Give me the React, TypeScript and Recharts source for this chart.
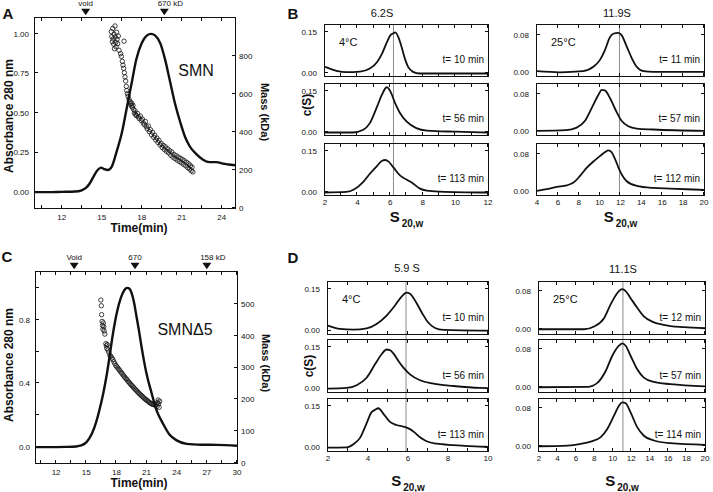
import React from 'react';
import { ComposedChart, LineChart, Line, Scatter, XAxis, YAxis, ReferenceDot } from 'recharts';

const FONT = '"Liberation Sans", Arial, Helvetica, sans-serif';
const INK = '#111';

type Pt = [number, number];

// ---------- A: SMN elution (time, A280) ----------
const smnTime = [10, 11, 12, 13, 13.5, 13.8, 14.1, 14.4, 14.7, 14.95, 15.2, 15.45, 15.75, 16.1, 16.5, 16.9, 17.25, 17.6, 18.0, 18.4, 18.7, 19.0, 19.4, 19.75, 20.1, 20.5, 20.9, 21.25, 21.6, 22.1, 22.6, 23.1, 23.6, 24.1, 24.5, 25];
const smnAbs = [0, 0, 0.002, 0.004, 0.012, 0.025, 0.055, 0.1, 0.14, 0.155, 0.145, 0.14, 0.16, 0.25, 0.37, 0.54, 0.69, 0.84, 0.94, 0.99, 1.0, 0.99, 0.94, 0.84, 0.71, 0.56, 0.44, 0.35, 0.29, 0.24, 0.205, 0.19, 0.19, 0.18, 0.175, 0.17];

// MALS mass (time, kDa)
const smnMass: Pt[] = [
  [15.72, 928], [15.76, 902], [15.8, 875], [15.83, 945], [15.86, 890], [15.9, 862], [15.93, 915], [15.96, 838],
  [16.0, 958], [16.02, 900], [16.05, 872], [16.08, 848], [16.12, 925], [16.15, 888], [16.2, 865], [16.25, 905],
  [16.3, 830], [16.42, 812], [16.48, 798], [16.68, 878], [16.55, 772], [16.6, 752], [16.65, 735], [16.7, 712],
  [16.75, 690], [16.8, 668], [16.85, 640], [16.88, 618], [16.93, 602], [16.98, 588], [17.05, 572], [17.12, 560],
  [17.18, 548], [17.22, 538], [17.26, 552], [17.3, 530], [17.35, 540], [17.4, 518], [17.45, 500], [17.5, 512],
  [17.55, 492], [17.6, 486], [17.68, 498], [17.75, 480], [17.82, 470], [17.9, 484], [17.98, 460], [18.05, 468],
  [18.12, 448], [18.2, 438], [18.28, 455], [18.35, 428], [18.42, 416], [18.5, 432], [18.58, 402], [18.66, 412],
  [18.74, 385], [18.82, 398], [18.9, 372], [18.98, 383], [19.06, 358], [19.14, 368], [19.22, 345], [19.3, 356],
  [19.38, 332], [19.46, 340], [19.54, 318], [19.62, 330], [19.7, 308], [19.78, 322], [19.86, 298], [19.94, 312],
  [20.02, 290], [20.1, 302], [20.18, 278], [20.26, 295], [20.34, 268], [20.42, 282], [20.5, 260], [20.58, 276],
  [20.66, 252], [20.74, 268], [20.82, 245], [20.9, 262], [20.98, 238], [21.06, 255], [21.14, 230], [21.22, 248],
  [21.3, 222], [21.38, 240], [21.46, 212], [21.54, 232], [21.6, 205], [21.66, 222], [21.72, 196], [21.78, 215],
  [21.84, 190],
];

// ---------- C: SMNΔ5 elution ----------
const d5Time = [10, 12, 13, 14, 14.5, 15, 15.3, 15.6, 16.0, 16.3, 16.7, 17.0, 17.3, 17.6, 17.9, 18.1, 18.4, 18.65, 18.9, 19.1, 19.3, 19.5, 19.75, 20.0, 20.25, 20.5, 20.75, 21.0, 21.5, 22.0, 22.7, 23.3, 24.0, 25.0, 26.5, 28, 30];
const d5Abs = [0, 0, 0.001, 0.004, 0.01, 0.03, 0.055, 0.09, 0.16, 0.23, 0.34, 0.44, 0.56, 0.69, 0.8, 0.86, 0.93, 0.97, 0.995, 1.0, 0.995, 0.97, 0.91, 0.82, 0.73, 0.63, 0.54, 0.46, 0.34, 0.23, 0.14, 0.077, 0.042, 0.02, 0.015, 0.014, 0.008];

const d5Mass: Pt[] = [
  [16.45, 512], [16.5, 494], [16.53, 466], [16.58, 445], [16.62, 432], [16.66, 420], [16.7, 440], [16.74, 428],
  [16.78, 415], [16.85, 405], [16.95, 375], [17.0, 368], [17.05, 360], [17.1, 372], [17.15, 355], [17.25, 348],
  [17.35, 338], [17.45, 335], [17.55, 330], [17.65, 325], [17.75, 318], [17.85, 312], [17.95, 306], [18.05, 302],
  [18.15, 298], [18.25, 294], [18.35, 290], [18.45, 285], [18.55, 282], [18.65, 277], [18.75, 273], [18.85, 269],
  [18.95, 265], [19.05, 262], [19.15, 257], [19.25, 254], [19.35, 250], [19.45, 246], [19.55, 243], [19.65, 239],
  [19.75, 236], [19.85, 232], [19.95, 229], [20.05, 226], [20.15, 222], [20.25, 219], [20.35, 216], [20.45, 213],
  [20.55, 210], [20.65, 207], [20.75, 204], [20.85, 201], [20.95, 199], [21.05, 196], [21.15, 194], [21.25, 191],
  [21.35, 189], [21.45, 187], [21.55, 185], [21.65, 184], [21.75, 183], [21.85, 182], [21.95, 184], [22.05, 178],
  [22.1, 190], [22.15, 198], [22.2, 186], [22.25, 175], [22.3, 194],
];

const smnMarks = [{ x: 13.8, name: 'void' }, { x: 19.7, name: '670 kD' }];
const d5Marks = [{ x: 13.8, name: 'Void' }, { x: 19.85, name: '670' }, { x: 27.0, name: '158 kD' }];

// ---------- B: c(S) traces, SMN ----------
const b4t10: Pt[] = [[2, 0.024], [2.7, 0.01], [3.3, 0.005], [4.15, 0.007], [4.75, 0.018], [5.2, 0.042], [5.5, 0.072], [5.8, 0.114], [6.0, 0.138], [6.2, 0.146], [6.3, 0.149], [6.5, 0.132], [6.7, 0.096], [6.9, 0.054], [7.1, 0.024], [7.4, 0.006], [7.8, 0], [9, 0], [12, 0]];
const b4t56: Pt[] = [[2, 0], [3.7, 0], [4.35, 0.01], [4.75, 0.034], [5.2, 0.095], [5.5, 0.138], [5.7, 0.16], [5.8, 0.165], [6.0, 0.15], [6.3, 0.107], [6.6, 0.071], [7.0, 0.04], [7.6, 0.016], [8.25, 0.007], [10, 0.003], [12, 0]];
const b4t113: Pt[] = [[2, 0], [3.3, 0.002], [3.8, 0.012], [4.35, 0.039], [4.75, 0.068], [5.2, 0.097], [5.5, 0.115], [5.7, 0.118], [5.9, 0.112], [6.2, 0.091], [6.6, 0.062], [7.0, 0.047], [7.4, 0.033], [7.8, 0.015], [8.25, 0.007], [9.05, 0.0035], [12, 0]];

const b25t11: Pt[] = [[4, 0.0015], [6.2, -0.001], [8.4, 0.0015], [9.4, 0.011], [10, 0.025], [10.5, 0.047], [11, 0.076], [11.3, 0.083], [11.8, 0.085], [12.1, 0.08], [12.6, 0.055], [13.1, 0.029], [13.55, 0.011], [14.2, 0.0015], [15.15, 0], [20, 0]];
const b25t57: Pt[] = [[4, 0], [6.8, 0.0014], [7.8, 0.007], [8.6, 0.022], [9.25, 0.05], [9.9, 0.079], [10.2, 0.089], [10.5, 0.088], [11, 0.071], [11.5, 0.047], [12.1, 0.022], [12.75, 0.01], [13.55, 0.005], [15.15, 0.003], [20, 0]];
const b25t112: Pt[] = [[4, 0], [4.9, 0.0036], [5.9, 0.0086], [6.85, 0.012], [7.5, 0.018], [8.1, 0.032], [8.75, 0.05], [9.4, 0.064], [10, 0.075], [10.5, 0.084], [10.85, 0.088], [11.15, 0.084], [11.5, 0.068], [11.95, 0.043], [12.6, 0.021], [13.55, 0.011], [15.15, 0.0064], [16.75, 0.005], [20, 0.002]];

// ---------- D: c(S) traces, SMNΔ5 ----------
const d4t10: Pt[] = [[2, 0.018], [2.6, 0.006], [3.27, 0.0036], [3.93, 0.008], [4.43, 0.024], [4.93, 0.054], [5.35, 0.09], [5.68, 0.122], [5.93, 0.136], [6.1, 0.132], [6.35, 0.108], [6.68, 0.066], [7.0, 0.03], [7.35, 0.0096], [7.77, 0.0024], [9.6, 0], [10, 0]];
const d4t56: Pt[] = [[2, 0], [2.93, 0.0024], [3.43, 0.012], [3.93, 0.039], [4.35, 0.087], [4.68, 0.123], [4.93, 0.14], [5.1, 0.138], [5.27, 0.126], [5.52, 0.099], [5.77, 0.075], [6.1, 0.051], [6.6, 0.03], [7.27, 0.018], [8.27, 0.0095], [9.6, 0.0024], [10, 0.002]];
const d4t113: Pt[] = [[2, 0], [2.93, 0.001], [3.27, 0.012], [3.6, 0.035], [3.93, 0.087], [4.18, 0.127], [4.35, 0.135], [4.52, 0.141], [4.77, 0.121], [5.1, 0.092], [5.43, 0.081], [5.77, 0.075], [6.02, 0.069], [6.27, 0.058], [6.6, 0.037], [6.93, 0.023], [7.43, 0.014], [8.27, 0.009], [9.6, 0.0035], [10, 0.003]];

const d25t12: Pt[] = [[2, 0], [6.9, 0], [7.97, 0.0057], [9.05, 0.023], [9.77, 0.052], [10.5, 0.076], [11, 0.084], [11.4, 0.08], [11.9, 0.066], [12.65, 0.045], [13.37, 0.027], [14.27, 0.016], [15.5, 0.0092], [17.7, 0.0042], [20, 0.002]];
const d25t57: Pt[] = [[2, 0], [7.25, 0.0007], [8.33, 0.0092], [9.23, 0.034], [9.95, 0.066], [10.67, 0.087], [11.03, 0.092], [11.4, 0.087], [11.93, 0.066], [12.65, 0.0375], [13.37, 0.02], [14.45, 0.011], [16.25, 0.0064], [20, 0.002]];
const d25t114: Pt[] = [[2, 0], [5.1, 0.0014], [6.53, 0.005], [7.6, 0.0097], [8.7, 0.019], [9.4, 0.036], [10.13, 0.064], [10.67, 0.085], [11.03, 0.092], [11.4, 0.09], [11.93, 0.071], [12.65, 0.04], [13.37, 0.022], [14.45, 0.012], [16.25, 0.0063], [20, 0.0028]];

// sedimentation coefficients marked by the grey guide lines
const bPeakS = [6.2, 11.9];
const dPeakS = [5.9, 11.1];

const range = (a: number, b: number, step: number) => {
  const out: number[] = [];
  for (let v = a; v <= b + 1e-9; v += step) out.push(Math.round(v * 100) / 100);
  return out;
};

const rows = (p: Pt[]) => p.map(([x, y]) => ({ x, y }));
const tickStyle = { fill: INK, fontSize: 8, fontFamily: FONT };

// Origin-style box with inward ticks on all four sides
function PlotBox({ x, y, w, h, lw, xd, xt, yd, yt, yd2, yt2 }: any) {
  const sx = (v: number) => ((v - xd[0]) / (xd[1] - xd[0])) * w;
  const sy = (v: number, d: number[]) => h - ((v - d[0]) / (d[1] - d[0])) * h;
  const o = lw / 2;
  const right = yt2 ? yt2.map((v: number) => sy(v, yd2)) : yt.map((v: number) => sy(v, yd));
  const tick = (style: any, key: string) => (
    <div key={key} style={{ position: 'absolute', background: INK, ...style }} />
  );
  return (
    <div
      style={{
        position: 'absolute',
        left: x - o,
        top: y - o,
        width: w + lw,
        height: h + lw,
        border: `${lw}px solid ${INK}`,
        boxSizing: 'border-box',
        pointerEvents: 'none',
        zIndex: 2,
      }}
    >
      {xt.map((v: number) => tick({ left: sx(v) - o - 0.5, bottom: 0, width: 1, height: 3 }, `b${v}`))}
      {xt.map((v: number) => tick({ left: sx(v) - o - 0.5, top: 0, width: 1, height: 3 }, `t${v}`))}
      {yt.map((v: number) => tick({ left: 0, top: sy(v, yd) - o - 0.5, width: 3, height: 1 }, `l${v}`))}
      {right.map((p: number, i: number) => tick({ right: 0, top: p - o - 0.5, width: 3, height: 1 }, `r${i}`))}
    </div>
  );
}

function Ring(props: any) {
  const { cx, cy } = props;
  if (cx == null || cy == null) return null;
  return <circle cx={cx} cy={cy} r={2.2} fill="none" stroke={INK} strokeWidth={0.8} />;
}

function ElutionMark(props: any) {
  const { cx, cy, name } = props;
  if (cx == null || cy == null) return null;
  const fs = 8;
  const parts = name.split(' ');
  const numW = parts[0].length * 0.556 * fs;
  const hasUnit = parts.length > 1;
  return (
    <g>
      <polygon points={`${cx - 4.5},${cy - 3} ${cx + 4.5},${cy - 3} ${cx},${cy + 3.5}`} fill={INK} />
      <text
        x={hasUnit ? cx - numW / 2 : cx}
        y={cy - 6}
        textAnchor={hasUnit ? 'start' : 'middle'}
        fontSize={fs}
        fontFamily={FONT}
        fill={INK}
      >
        {name}
      </text>
    </g>
  );
}

function Elution({ left, top, T, plotW, plotH, time, abs, mass, marks, xDomain, absTicks, absLabel, absFmt, massTicks, massDomain }: any) {
  const L = 35;
  const R = 40;
  const B = 30;
  const W = L + plotW + R;
  const H = T + plotH + B;
  const curve = time.map((t: number, i: number) => ({ t, a: abs[i] }));
  const pts = mass.map(([t, m]: Pt) => ({ t, m }));
  const yDomain = [-0.1, 1.1];
  const xTicks = range(xDomain[0] + 0.5, xDomain[1], 1.5);
  return (
    <div style={{ position: 'absolute', left, top, width: W, height: H }}>
      <ComposedChart width={W} height={H} margin={{ top: T, right: 0, bottom: 0, left: 0 }}>
        <XAxis
          dataKey="t"
          type="number"
          domain={xDomain}
          ticks={xTicks}
          interval={0}
          height={B}
          axisLine={false}
          tickLine={false}
          tickSize={0}
          tickMargin={6}
          tick={tickStyle}
          tickFormatter={(v: number) => (v % 3 === 0 ? String(v) : '')}
        />
        <YAxis
          yAxisId="abs"
          type="number"
          domain={yDomain}
          ticks={absTicks}
          interval={0}
          width={L}
          axisLine={false}
          tickLine={false}
          tickSize={0}
          tickMargin={6}
          tick={tickStyle}
          tickFormatter={(v: number) => (absLabel(v) ? v.toFixed(absFmt) : '')}
        />
        <YAxis
          yAxisId="mass"
          orientation="right"
          type="number"
          domain={massDomain}
          ticks={massTicks}
          interval={0}
          width={R}
          axisLine={false}
          tickLine={false}
          tickSize={0}
          tickMargin={4}
          tick={tickStyle}
        />
        <Line
          yAxisId="abs"
          data={curve}
          dataKey="a"
          type="monotone"
          stroke={INK}
          strokeWidth={2.4}
          dot={false}
          isAnimationActive={false}
        />
        <Scatter yAxisId="mass" data={pts} dataKey="m" shape={<Ring />} isAnimationActive={false} />
        {marks.map((m: any) => (
          <ReferenceDot
            key={m.name}
            yAxisId="abs"
            x={m.x}
            y={1.14}
            ifOverflow="visible"
            shape={(p: any) => <ElutionMark {...p} name={m.name} />}
          />
        ))}
      </ComposedChart>
      <PlotBox
        x={L}
        y={T}
        w={plotW}
        h={plotH}
        lw={1.5}
        xd={xDomain}
        xt={xTicks}
        yd={yDomain}
        yt={absTicks}
        yd2={massDomain}
        yt2={massTicks}
      />
    </div>
  );
}

function Trace({ left, top, w, h, xDomain, xTicks, labelled, yDomain, yTicks, points, tag, temp }: any) {
  const L = 34;
  const T = 3;
  const R = 5;
  const B = labelled ? 20 : 3;
  const W = L + w + R;
  const H = T + h + B;
  return (
    <div style={{ position: 'absolute', left: left - L, top: top - T, width: W, height: H }}>
      <LineChart width={W} height={H} data={rows(points)} margin={{ top: T, right: R, bottom: 0, left: 0 }}>
        <XAxis
          dataKey="x"
          type="number"
          domain={xDomain}
          ticks={xTicks}
          interval={0}
          height={B}
          axisLine={false}
          tickLine={false}
          tickSize={0}
          tickMargin={4}
          tick={tickStyle}
          tickFormatter={(v: number) => (labelled && v % 2 === 0 ? String(v) : '')}
        />
        <YAxis
          type="number"
          domain={yDomain}
          ticks={yTicks}
          interval={0}
          width={L}
          axisLine={false}
          tickLine={false}
          tickSize={0}
          tickMargin={8}
          tick={tickStyle}
          tickFormatter={(v: number) => v.toFixed(2)}
        />
        <Line dataKey="y" type="monotone" stroke={INK} strokeWidth={1.8} dot={false} isAnimationActive={false} />
      </LineChart>
      <PlotBox x={L} y={T} w={w} h={h} lw={1.6} xd={xDomain} xt={xTicks} yd={yDomain} yt={yTicks} />
      {temp && (
        <div style={{ position: 'absolute', left: L + 14, top: T + 17, transform: 'translateY(-50%)', fontSize: 11, lineHeight: 1 }}>
          {temp}
        </div>
      )}
      <div style={{ position: 'absolute', right: R + 4, top: T + h - 16, transform: 'translateY(-50%)', fontSize: 10, lineHeight: 1, whiteSpace: 'nowrap' }}>
        {tag}
      </div>
    </div>
  );
}

// grey vertical marker running through all three stacked traces of a column
function Guide({ left, top, w, h, xDomain, at }: any) {
  const seg = [{ x: at, y: 0 }, { x: at, y: 1 }];
  return (
    <div style={{ position: 'absolute', left, top }}>
      <LineChart width={w} height={h} data={seg} margin={{ top: 0, right: 0, bottom: 0, left: 0 }}>
        <XAxis dataKey="x" type="number" domain={xDomain} hide />
        <YAxis type="number" domain={[0, 1]} hide />
        <Line dataKey="y" stroke="#8c8c8c" strokeWidth={1} dot={false} isAnimationActive={false} />
      </LineChart>
    </div>
  );
}

function Column({ left, w, tops, h, xDomain, xTicks, yDomain, yTicks, traces, tags, temp, at, title, titleX, titleY, sY }: any) {
  return (
    <>
      <Guide left={left} top={tops[0]} w={w} h={tops[2] + h - tops[0]} xDomain={xDomain} at={at} />
      {traces.map((p: Pt[], i: number) => (
        <Trace
          key={i}
          left={left}
          top={tops[i]}
          w={w}
          h={h}
          xDomain={xDomain}
          xTicks={xTicks}
          labelled={i === 2}
          yDomain={yDomain}
          yTicks={yTicks}
          points={p}
          tag={tags[i]}
          temp={i === 0 ? temp : null}
        />
      ))}
      <Label x={titleX} y={titleY} size={11}>{title}</Label>
      <div style={{ position: 'absolute', left: left + w / 2, top: sY, transform: 'translate(-50%,-50%)', fontWeight: 'bold', fontSize: 15, whiteSpace: 'nowrap', lineHeight: 1 }}>
        S<span style={{ fontSize: 10, position: 'relative', top: 5, marginLeft: 2 }}>20,w</span>
      </div>
    </>
  );
}

function Label({ x, y, size, bold, rotate, children }: any) {
  return (
    <div
      style={{
        position: 'absolute',
        left: x,
        top: y,
        transform: `translate(-50%,-50%)${rotate ? ` rotate(${rotate}deg)` : ''}`,
        fontSize: size,
        fontWeight: bold ? 'bold' : 'normal',
        whiteSpace: 'nowrap',
        lineHeight: 1,
      }}
    >
      {children}
    </div>
  );
}

export default function App() {
  const bTops = [25, 84, 144];
  const dTops = [282, 340, 399];
  return (
    <div style={{ position: 'absolute', left: 0, top: 0, width: 713, height: 492, background: '#fff', fontFamily: FONT, color: INK, overflow: 'hidden' }}>
      {/* panel letters */}
      <Label x={8} y={13} size={15} bold>A</Label>
      <Label x={293} y={13} size={15} bold>B</Label>
      <Label x={7} y={256} size={15} bold>C</Label>
      <Label x={293} y={257} size={15} bold>D</Label>

      {/* A */}
      <Elution
        left={0}
        top={0}
        T={18}
        plotW={200}
        plotH={190}
        time={smnTime}
        abs={smnAbs}
        mass={smnMass}
        marks={smnMarks}
        xDomain={[10, 25]}
        absTicks={[0, 0.25, 0.5, 0.75, 1]}
        absLabel={() => true}
        absFmt={2}
        massTicks={[0, 200, 400, 600, 800]}
        massDomain={[0, 1000]}
      />
      <Label x={9} y={116} size={12} bold rotate={-90}>Absorbance 280 nm</Label>
      <Label x={264} y={112} size={11} bold rotate={90}>Mass (kDa)</Label>
      <Label x={139} y={228} size={12} bold>Time(min)</Label>
      <Label x={196} y={71} size={16}>SMN</Label>

      {/* C */}
      <Elution
        left={1}
        top={250}
        T={22}
        plotW={201}
        plotH={191}
        time={d5Time}
        abs={d5Abs}
        mass={d5Mass}
        marks={d5Marks}
        xDomain={[10, 30]}
        absTicks={[0, 0.2, 0.4, 0.6, 0.8, 1.0]}
        absLabel={(v: number) => [0, 0.4, 0.8].includes(v)}
        absFmt={1}
        massTicks={[0, 100, 200, 300, 400, 500]}
        massDomain={[0, 600]}
      />
      <Label x={9} y={365} size={12} bold rotate={-90}>Absorbance 280 nm</Label>
      <Label x={265} y={363} size={11} bold rotate={90}>Mass (kDa)</Label>
      <Label x={139} y={483} size={12} bold>Time(min)</Label>
      <Label x={185} y={330} size={16}>SMNΔ5</Label>

      {/* B */}
      <Label x={307} y={105} size={12} bold rotate={-90}>c(S)</Label>
      <Column
        left={325}
        w={163}
        tops={bTops}
        h={51}
        xDomain={[2, 12]}
        xTicks={range(2, 12, 1)}
        yDomain={[-0.009, 0.176]}
        yTicks={[0, 0.15]}
        traces={[b4t10, b4t56, b4t113]}
        tags={['t= 10 min', 't= 56 min', 't= 113 min']}
        temp="4°C"
        at={bPeakS[0]}
        title="6.2S"
        titleX={382}
        titleY={13}
        sY={216}
      />
      <Column
        left={537}
        w={167}
        tops={bTops}
        h={51}
        xDomain={[4, 20]}
        xTicks={range(4, 20, 2)}
        yDomain={[-0.009, 0.102]}
        yTicks={[0, 0.08]}
        traces={[b25t11, b25t57, b25t112]}
        tags={['t= 11 min', 't= 57 min', 't= 112 min']}
        temp="25°C"
        at={bPeakS[1]}
        title="11.9S"
        titleX={617}
        titleY={13}
        sY={216}
      />

      {/* D */}
      <Label x={309} y={366} size={12} bold rotate={-90}>c(S)</Label>
      <Column
        left={328}
        w={160}
        tops={dTops}
        h={52}
        xDomain={[2, 10]}
        xTicks={range(2, 10, 1)}
        yDomain={[-0.012, 0.174]}
        yTicks={[0, 0.15]}
        traces={[d4t10, d4t56, d4t113]}
        tags={['t= 10 min', 't= 56 min', 't= 113 min']}
        temp="4°C"
        at={dPeakS[0]}
        title="5.9 S"
        titleX={407}
        titleY={268}
        sY={480}
      />
      <Column
        left={539}
        w={166}
        tops={dTops}
        h={52}
        xDomain={[2, 20]}
        xTicks={range(2, 20, 2)}
        yDomain={[-0.01, 0.099]}
        yTicks={[0, 0.08]}
        traces={[d25t12, d25t57, d25t114]}
        tags={['t= 12 min', 't= 57 min', 't= 114 min']}
        temp="25°C"
        at={dPeakS[1]}
        title="11.1S"
        titleX={623}
        titleY={269}
        sY={480}
      />
    </div>
  );
}
